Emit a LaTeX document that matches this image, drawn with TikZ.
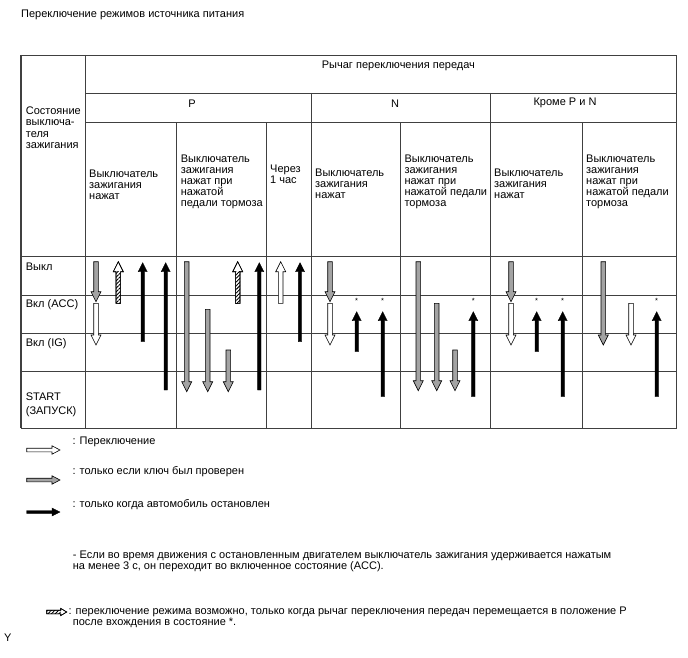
\documentclass[tikz,border=0pt]{standalone}
\usepackage{fontspec}
\setmainfont{Liberation Sans}
\usetikzlibrary{patterns.meta}
\newcommand\darr[4]{\draw[#1] ({#2-\sw},#3) -- ({#2-\sw},{#4-\hl}) -- ({#2-\hw},{#4-\hl}) -- (#2,#4) -- ({#2+\hw},{#4-\hl}) -- ({#2+\sw},{#4-\hl}) -- ({#2+\sw},#3) -- cycle;}
\newcommand\uarr[4]{\draw[#1] ({#2-\sw},#3) -- ({#2-\sw},{#4+\hl}) -- ({#2-\hw},{#4+\hl}) -- (#2,#4) -- ({#2+\hw},{#4+\hl}) -- ({#2+\sw},{#4+\hl}) -- ({#2+\sw},#3) -- cycle;}
\newcommand\rarr[4]{\draw[#1] (#3,{#2-\sw}) -- ({#4-\hl},{#2-\sw}) -- ({#4-\hl},{#2-\hw}) -- (#4,#2) -- ({#4-\hl},{#2+\hw}) -- ({#4-\hl},{#2+\sw}) -- (#3,{#2+\sw}) -- cycle;}
\newcommand\odims{\def\sw{2.3}\def\hw{5}\def\hl{10}}
\newcommand\bdims{\def\sw{1.7}\def\hw{4.5}\def\hl{9}}
\newcommand\gdown[3]{\odims\darr{garrow}{#1}{#2}{#3}}
\newcommand\wdown[3]{\odims\darr{warrow}{#1}{#2}{#3}}
\newcommand\wup[3]{\odims\uarr{warrow}{#1}{#2}{#3}}
\newcommand\bup[3]{\bdims\uarr{barrow}{#1}{#2}{#3}}
\newcommand\hup[3]{\odims\uarr{warrow}{#1}{#2}{#3}%
  \fill[hatch] ({#1-\sw},#2) rectangle ({#1+\sw},{#3+\hl});%
  \uarr{outl}{#1}{#2}{#3}}
\begin{document}
\begin{tikzpicture}[x=1pt,y=-1pt,
  outl/.style={draw=black,line width=0.6pt},
  garrow/.style={outl,fill=black!36},
  warrow/.style={outl,fill=white},
  barrow/.style={draw=black,line width=0.4pt,fill=black},
  hatch/.style={pattern={Lines[angle=45,distance=2.6pt,line width=0.9pt]}},
  grid/.style={draw=black!75,line width=0.7pt},
  txt/.style={inner sep=0pt,font=\fontsize{11}{11.1}\selectfont,align=left},
  star/.style={inner sep=0pt,font=\fontsize{7.5}{7.5}\selectfont}]
\useasboundingbox (0,0) rectangle (688,658);
% title
\node[txt,anchor=west] (title) at (21,15) {Переключение режимов источника питания};
% grid
\draw[grid] (21,55) rectangle (676.7,428.3);
\draw[grid,line width=1.2pt] (21,55) -- (21,428.3);
\draw[grid] (85,55) -- (85,428.3);
\draw[grid] (85,93) -- (676.7,93);
\draw[grid] (85,122.7) -- (676.7,122.7);
\foreach \x in {311.7,490.7} \draw[grid] (\x,93) -- (\x,428.3);
\foreach \x in {176.7,266.7,400.7,582.7} \draw[grid] (\x,122.7) -- (\x,428.3);
\foreach \y in {256.7,295,333.3,371.7} \draw[grid] (21,\y) -- (676.7,\y);
% headers
\node[txt,anchor=west] (lever) at (321.7,65.7) {Рычаг переключения передач};
\node[txt] (hP) at (192,103.3) {P};
\node[txt] (hN) at (395,103.3) {N};
\node[txt] (hX) at (565,103.3) {Кроме P и N};
\node[txt,anchor=north west] (state) at (25.7,107) {Состояние\\выключа-\\теля\\зажигания};
\node[txt,anchor=north west] (c1) at (89,169.3) {Выключатель\\зажигания\\нажат};
\node[txt,anchor=north west] (c2) at (180.7,154.3) {Выключатель\\зажигания\\нажат при\\нажатой\\педали тормоза};
\node[txt,anchor=north west] (c3) at (270,164.3) {Через\\1 час};
\node[txt,anchor=north west] (c4) at (315,168.9) {Выключатель\\зажигания\\нажат};
\node[txt,anchor=north west] (c5) at (404.3,154.3) {Выключатель\\зажигания\\нажат при\\нажатой педали\\тормоза};
\node[txt,anchor=north west] (c6) at (494,168.9) {Выключатель\\зажигания\\нажат};
\node[txt,anchor=north west] (c7) at (586,154.3) {Выключатель\\зажигания\\нажат при\\нажатой педали\\тормоза};
% row labels
\node[txt,anchor=west] (rOff) at (25.7,266.7) {Выкл};
\node[txt,anchor=west] (rAcc) at (25.7,304.3) {Вкл (ACC)};
\node[txt,anchor=west] (rIg) at (25.7,344) {Вкл (IG)};
\node[txt,anchor=west] (rSt) at (25.7,396.7) {START};
\node[txt,anchor=west] (rSt2) at (25.7,411.7) {(ЗАПУСК)};
% arrows: P / switch pressed
\gdown{96}{261.7}{301.7}
\wdown{96}{303.3}{345}
\hup{118.3}{303.3}{261.7}
\bup{142.7}{341.7}{262.7}
\bup{165.7}{390}{262.7}
% P / with brake
\gdown{186.7}{261.7}{391.7}
\gdown{207.7}{309.3}{391.7}
\gdown{228.3}{350}{391.7}
\hup{237.7}{303.3}{261.7}
\bup{259.3}{390}{262.7}
% P / after 1 hour
\wup{280.7}{303.3}{261.7}
\bup{300}{341.7}{262.7}
% N / switch pressed
\gdown{330}{261.7}{301.7}
\wdown{330}{303.3}{345}
\bup{356.7}{351.7}{311.7}
\bup{382.7}{396.7}{311.7}
% N / with brake
\gdown{418.3}{261.7}{390.7}
\gdown{436.7}{303.3}{390.7}
\gdown{455}{350}{390.7}
\bup{473.3}{396.7}{311.7}
% other / switch pressed
\gdown{511}{261.7}{301.7}
\wdown{511}{303.3}{345}
\bup{536.7}{351.7}{311.7}
\bup{562.7}{396.7}{311.7}
% other / with brake
\gdown{603.3}{261.7}{345}
\wdown{631}{303.3}{345}
\bup{656.7}{396.7}{311.7}
% stars
\foreach \x/\n in {356.7/s1,382.7/s2,473.3/s3,536.7/s4,562.7/s5,656.7/s6}
  \node[star] (\n) at (\x,300.5) {*};
% legend
\def\sw{1.8}\def\hw{4.2}\def\hl{8}
\rarr{warrow}{450}{26.7}{60}
\rarr{garrow}{480}{26.7}{60}
\def\sw{1.5}\def\hw{4}\def\hl{8}
\rarr{barrow}{512}{26.7}{60}
\node[txt,anchor=west] (l1) at (72.3,442.3) {: Переключение};
\node[txt,anchor=west] (l2) at (72.3,471.7) {: только если ключ был проверен};
\node[txt,anchor=west] (l3) at (72.3,505) {: только когда автомобиль остановлен};
\node[txt,anchor=north west] (note) at (72.7,551.1) {- Если во время движения с остановленным двигателем выключатель зажигания удерживается нажатым\\на менее 3 с, он переходит во включенное состояние (ACC).};
\def\sw{1.8}\def\hw{3.6}\def\hl{6}
\rarr{warrow}{612}{46.7}{66.7}
\fill[hatch] (46.7,610.2) rectangle (60.7,613.8);
\rarr{outl}{612}{46.7}{66.7}
\node[txt,anchor=west] (l4) at (68.3,612) {: переключение режима возможно, только когда рычаг переключения передач перемещается в положение P};
\node[txt,anchor=west] (l5) at (72.7,622.8) {после вхождения в состояние *.};
\node[txt,anchor=west] (yy) at (4,638) {Y};
\end{tikzpicture}
\end{document}
